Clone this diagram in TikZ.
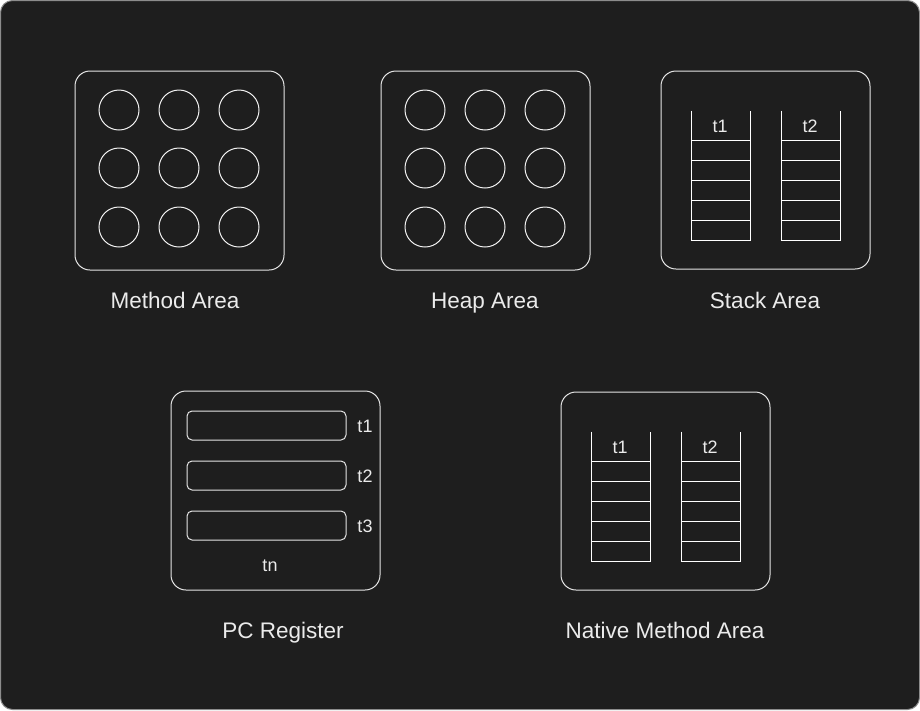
\documentclass[tikz,border=0pt]{standalone}
\usepackage{fontspec}
\setmainfont{Liberation Sans}
\begin{document}
\begin{tikzpicture}[x=1pt,y=-1pt,
  panel/.style={draw=white!90!black, line width=1pt, rounded corners=15pt},
  slot/.style={draw=white!90!black, line width=1pt, rounded corners=5pt},
  cell/.style={draw=white!95!black, line width=1pt, circle, minimum size=40pt, inner sep=0pt},
  areaname/.style={text=white!92!black, anchor=base, inner sep=0pt, font=\fontsize{22.5}{26}\selectfont},
  tag/.style={text=white!92!black, anchor=base, inner sep=0pt, font=\fontsize{18}{21}\selectfont},
  rail/.style={draw=white, line width=1pt}]
\useasboundingbox (0,0) rectangle (920,710);
\fill[white] (0,0) rectangle (920,710);
\draw[fill={rgb,255:red,30;green,30;blue,30}, draw=white!55!black, line width=1pt, rounded corners=12pt] (0.5,0.5) rectangle (919.5,709.5);

% Method area and heap area: 3x3 grids of objects
\foreach \bx/\nm/\lab/\lx in {75/meth/Method Area/175, 381/heap/Heap Area/485}{
  \draw[panel] (\bx,71) rectangle ++(209,199);
  \foreach \i in {0,1,2}{
    \foreach \j/\yy in {0/110,1/168,2/227}{
      \node[cell] (\nm-\i-\j) at (\bx+44+60*\i,\yy) {};
    }
  }
  \node[areaname] (\nm-lab) at (\lx,308) {\lab};
}

% Stack area and native method area: two frame stacks each
\foreach \bx/\by/\nm/\lab/\lx/\ly in {661/71/stack/Stack Area/765/308, 561/392/native/Native Method Area/665/638}{
  \draw[panel] (\bx,\by) rectangle ++(209,198);
  \foreach \k/\off in {1/30,2/120}{
    \pgfmathsetmacro{\xl}{\bx+\off}
    \pgfmathsetmacro{\xr}{\bx+\off+59}
    \pgfmathsetmacro{\yt}{\by+39.5}
    \pgfmathsetmacro{\yb}{\by+169.5}
    \draw[rail] (\xl,\yt) -- (\xl,\yb) -- (\xr,\yb) -- (\xr,\yt);
    \foreach \r in {30,50,70,90,110}{
      \draw[rail] (\xl,\by+39.5+\r) -- (\xr,\by+39.5+\r);
    }
    \node[tag] (\nm-t\k) at (\bx+\off+29,\by+61) {t\k};
  }
  \node[areaname] (\nm-lab) at (\lx,\ly) {\lab};
}

% PC register: one slot per thread
\draw[panel] (171,391) rectangle (380,590);
\foreach \k/\yy in {1/411,2/461,3/511}{
  \draw[slot] (187,\yy) rectangle (346,\yy+29);
  \node[tag] (pc-t\k) at (365,\yy+21) {t\k};
}
\node[tag] (pc-tn) at (270,571) {tn};
\node[areaname] (pc-lab) at (283,638) {PC Register};
\end{tikzpicture}
\end{document}
